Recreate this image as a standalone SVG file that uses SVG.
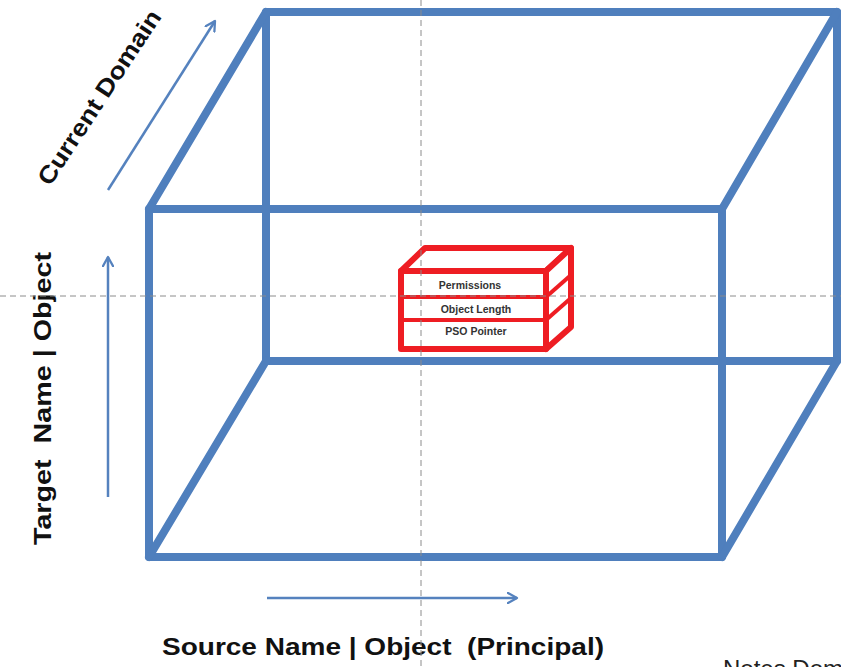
<svg xmlns="http://www.w3.org/2000/svg" width="841" height="667" viewBox="0 0 841 667">
  <style>
    .frame { fill: none; stroke: #4F7FBD; stroke-width: 8; stroke-linejoin: round; stroke-linecap: round; }
    .axis { fill: none; stroke: #5582BE; stroke-width: 2.5; marker-end: url(#head); }
    .guide { fill: none; stroke: #8C8C8C; stroke-width: 1; stroke-dasharray: 6 4; }
    .rec { fill: #FFFFFF; stroke: #EE1D23; stroke-width: 6; stroke-linejoin: round; }
    .recline { fill: none; stroke: #EE1D23; stroke-width: 4; }
    .lbl { font-family: "Liberation Sans", Arial, sans-serif; font-weight: bold; fill: #111111; white-space: pre; }
    .field { font-family: "Liberation Sans", Arial, sans-serif; font-weight: bold; font-size: 10.5px; fill: #333333; text-anchor: middle; }
  </style>
  <defs>
    <marker id="head" viewBox="0 0 12 12" refX="10" refY="6" markerWidth="5" markerHeight="5" orient="auto" markerUnits="strokeWidth">
      <path d="M1,1 L10,6 L1,11" fill="none" stroke="#5582BE" stroke-width="2.2" stroke-linecap="round" stroke-linejoin="round"/>
    </marker>
  </defs>

  <rect width="841" height="667" fill="#FFFFFF"/>

  <!-- wireframe cube -->
  <g id="cube">
    <rect class="frame" x="266" y="12" width="571" height="349"/>
    <rect class="frame" x="149" y="209" width="573" height="348"/>
    <line class="frame" x1="149" y1="209" x2="266" y2="12"/>
    <line class="frame" x1="722" y1="209" x2="837" y2="12"/>
    <line class="frame" x1="149" y1="557" x2="266" y2="361"/>
    <line class="frame" x1="722" y1="557" x2="837" y2="361"/>
  </g>

  <!-- record block -->
  <g id="record">
    <polygon class="rec" points="401,271 425,248 571,248 546,271"/>
    <polygon class="rec" points="546,271 571,248 571,327 546,349"/>
    <rect class="rec" x="401" y="271" width="145" height="78"/>
    <line class="recline" x1="401" y1="297" x2="546" y2="297"/>
    <line class="recline" x1="401" y1="320" x2="546" y2="320"/>
    <line class="recline" x1="546" y1="297" x2="571" y2="275"/>
    <line class="recline" x1="546" y1="320" x2="571" y2="298"/>
    <text class="field" x="470" y="289">Permissions</text>
    <text class="field" x="476" y="313">Object Length</text>
    <text class="field" x="476" y="335">PSO Pointer</text>
  </g>

  <!-- axis arrows -->
  <g id="connectors">
    <line class="axis" x1="108" y1="190" x2="215" y2="21"/>
    <line class="axis" x1="108" y1="497" x2="108" y2="257"/>
    <line class="axis" x1="267" y1="598" x2="517" y2="598"/>
  </g>

  <!-- axis labels -->
  <g id="labels">
    <text class="lbl" font-size="24" transform="translate(50,187) rotate(-56.6)" textLength="204" lengthAdjust="spacingAndGlyphs">Current Domain</text>
    <text class="lbl" font-size="24" transform="translate(51,545) rotate(-90)" textLength="293" lengthAdjust="spacingAndGlyphs">Target&#160; Name | Object</text>
    <text class="lbl" font-size="24" x="162" y="655" textLength="442" lengthAdjust="spacingAndGlyphs">Source Name | Object&#160; (Principal)</text>
    <text font-family="Liberation Sans, Arial, sans-serif" font-size="24" fill="#222222" x="723" y="677">Notes Domain</text>
  </g>

  <!-- center guides -->
  <g id="guides">
    <line class="guide" x1="421" y1="0" x2="421" y2="667"/>
    <line class="guide" x1="0" y1="296" x2="841" y2="296"/>
  </g>
</svg>
